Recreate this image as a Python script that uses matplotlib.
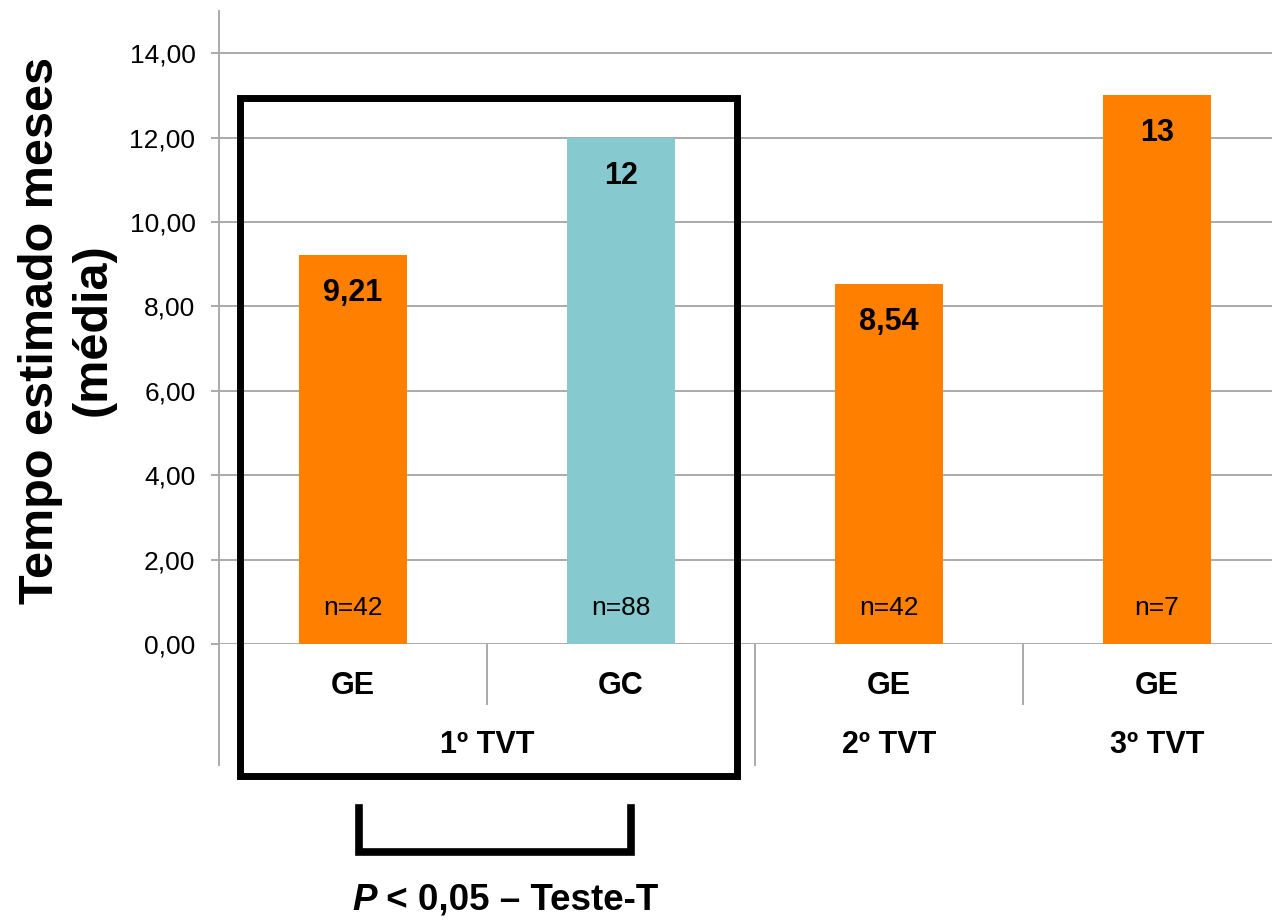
import matplotlib
matplotlib.use('Agg')
import matplotlib.pyplot as plt
from matplotlib.patches import Rectangle
from matplotlib.lines import Line2D

plt.rcParams['font.family'] = ['Liberation Sans', 'DejaVu Sans']

# data
groups = ['GE', 'GC', 'GE', 'GE']
tvt = ['1º TVT', '2º TVT', '3º TVT']
tvt_pos = [0.5, 2, 3]
means = [9.21, 12, 8.54, 13]
mean_labels = ['9,21', '12', '8,54', '13']
n_labels = ['n=42', 'n=88', 'n=42', 'n=7']
colors = ['#FF7F00', '#86CACF', '#FF7F00', '#FF7F00']
yticks = [0, 2, 4, 6, 8, 10, 12, 14]

fig = plt.figure(figsize=(12.72, 9.21), dpi=100)
ax = fig.add_axes([219/1272, 277/921, 1072/1272, 633/921])

x = range(len(means))
ax.bar(x, means, width=0.4, color=colors, zorder=3)
ax.set_xlim(-0.5, 3.5)
ax.set_ylim(0, 15)
ax.set_yticks(yticks)
ax.set_yticklabels([f'{v:.2f}'.replace('.', ',') for v in yticks], fontsize=19)
ax.set_xticks([])
ax.grid(axis='y', color='#AAAAAA', linewidth=1.4, zorder=0)
ax.tick_params(axis='y', length=6, width=1.4, color='#AAAAAA', pad=11)
for s in ['top', 'right', 'bottom']:
    ax.spines[s].set_visible(False)
ax.spines['left'].set_color('#AAAAAA')
ax.spines['left'].set_linewidth(1.4)

for i, v in enumerate(means):
    ax.text(i, v - 0.9, mean_labels[i], ha='center', va='center',
            fontsize=22, fontweight='bold', zorder=4)
    ax.text(i, 0.85, n_labels[i], ha='center', va='center', fontsize=19, zorder=4)
    ax.text(i, -1.0, groups[i], ha='center', va='center',
            fontsize=22, fontweight='bold', clip_on=False)

for p, t in zip(tvt_pos, tvt):
    ax.text(p, -2.4, t, ha='center', va='center',
            fontsize=22, fontweight='bold', clip_on=False)

# category separators below the axis
gray = '#AAAAAA'
for xs, ybot in [(-0.5, -2.87), (0.5, -1.42), (1.5, -2.87), (2.5, -1.42)]:
    ax.add_line(Line2D([xs, xs], [0, ybot], color=gray, linewidth=1.4, clip_on=False))

# box around the 1º TVT group
ax.add_patch(Rectangle((-0.42, -3.13), 1.853, 16.07, fill=False,
                       edgecolor='black', linewidth=5, clip_on=False,
                       joinstyle='miter', zorder=5))

# bracket and test result
ax.add_line(Line2D([0.022, 0.022, 1.037, 1.037], [-3.89, -4.93, -4.93, -3.89],
                   color='black', linewidth=5.5, clip_on=False,
                   solid_joinstyle='miter'))
p_txt = ax.text(-0.004, -6.07, 'P', ha='left', va='center', fontsize=26.5,
                fontweight='bold', fontstyle='italic', clip_on=False)
ax.annotate(' < 0,05 – Teste-T', xy=(1, 0), xycoords=p_txt, ha='left', va='bottom',
            fontsize=26.5, fontweight='bold', annotation_clip=False)

fig.text(67/1272, 1 - 330/921, 'Tempo estimado meses\n(média)', rotation=90,
         ha='center', va='center', multialignment='center',
         fontsize=35, fontweight='bold')

fig.savefig('out.png', dpi=100)
